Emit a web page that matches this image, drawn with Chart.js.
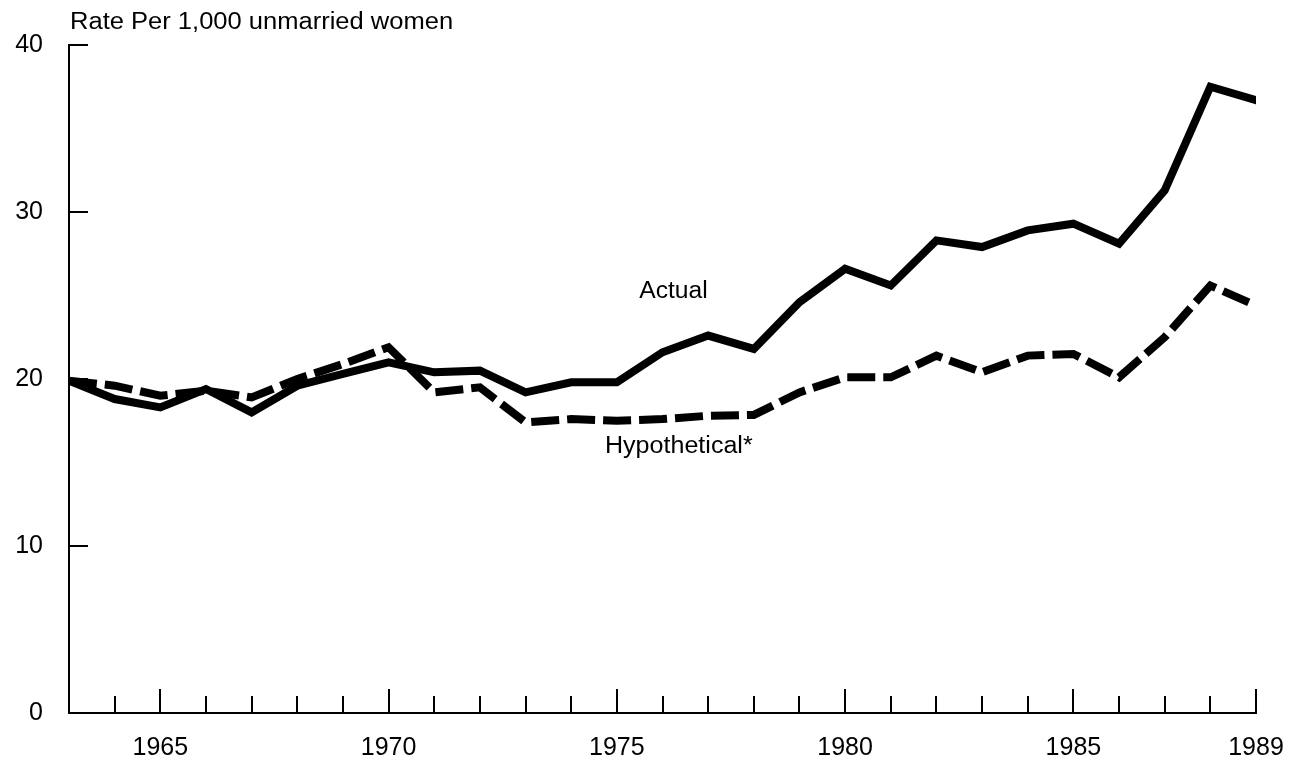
<!DOCTYPE html>
<html>
<head>
<meta charset="utf-8">
<script src="https://cdn.jsdelivr.net/npm/chart.js@4/dist/chart.umd.min.js"></script>
<style>
  html, body { margin: 0; padding: 0; background: #fff; }
  #grafico { display: block; }
</style>
</head>
<body>
<canvas id="grafico" width="1298" height="762"></canvas>
<script>
// Anos da série (1963 a 1989)
const anos = [1963, 1964, 1965, 1966, 1967, 1968, 1969, 1970, 1971, 1972, 1973, 1974, 1975,
              1976, 1977, 1978, 1979, 1980, 1981, 1982, 1983, 1984, 1985, 1986, 1987, 1988, 1989];

// Taxa real por 1.000 mulheres não casadas
const taxaReal = [19.9, 18.8, 18.3, 19.4, 18.0, 19.6, 20.3, 21.0, 20.4, 20.5, 19.2, 19.8, 19.8,
                  21.6, 22.6, 21.8, 24.6, 26.6, 25.6, 28.3, 27.9, 28.9, 29.3, 28.1, 31.3, 37.5, 36.7];

// Taxa hipotética
const taxaHipotetica = [19.9, 19.6, 19.0, 19.3, 18.9, 20.0, 20.9, 21.9, 19.2, 19.5, 17.4, 17.6, 17.5,
                        17.6, 17.8, 17.85, 19.2, 20.1, 20.1, 21.4, 20.4, 21.4, 21.5, 20.1, 22.5, 25.6, 24.4];

// Rótulos do eixo X e do eixo Y
const anosRotulados = [1965, 1970, 1975, 1980, 1985, 1989];
const valoresEixoY = [0, 10, 20, 30, 40];

const tituloEixo = 'Rate Per 1,000 unmarried women';
const rotuloReal = 'Actual';
const rotuloHipotetico = 'Hypothetical*';

const fonte = '"Liberation Sans", Arial, Helvetica, sans-serif';

function pontos(valores) {
    return anos.map((ano, i) => ({ x: ano, y: valores[i] }));
}

// Escreve um texto com leve esticamento horizontal
function escreverTexto(ctx, texto, x, y, tamanho, escalaX) {
    ctx.save();
    ctx.translate(x, y);
    ctx.scale(escalaX, 1);
    ctx.font = tamanho + 'px ' + fonte;
    ctx.fillStyle = '#000';
    ctx.textAlign = 'left';
    ctx.textBaseline = 'alphabetic';
    ctx.fillText(texto, 0, 0);
    ctx.restore();
}

// Marcas dos eixos voltadas para dentro da área do gráfico
const marcasEixos = {
    id: 'marcasEixos',
    beforeDatasetsDraw(chart) {
        const ctx = chart.ctx;
        const x = chart.scales.x;
        const y = chart.scales.y;
        const area = chart.chartArea;
        ctx.save();
        ctx.strokeStyle = '#000';
        ctx.lineWidth = 2;
        ctx.beginPath();
        anos.slice(1).forEach(ano => {
            const px = Math.round(x.getPixelForValue(ano));
            const comprimento = anosRotulados.includes(ano) ? 24 : 17;
            ctx.moveTo(px, area.bottom);
            ctx.lineTo(px, area.bottom - comprimento);
        });
        valoresEixoY.slice(1).forEach(v => {
            const py = Math.round(y.getPixelForValue(v));
            ctx.moveTo(area.left, py);
            ctx.lineTo(area.left + 19, py);
        });
        ctx.stroke();
        ctx.restore();
    },
    afterDraw(chart) {
        const ctx = chart.ctx;
        const x = chart.scales.x;
        const y = chart.scales.y;
        escreverTexto(ctx, tituloEixo, 70, 29, 23, 1.11);
        escreverTexto(ctx, rotuloReal, x.getPixelForValue(1975.49), y.getPixelForValue(24.85), 23, 1.07);
        escreverTexto(ctx, rotuloHipotetico, x.getPixelForValue(1974.74), y.getPixelForValue(15.55), 23, 1.09);
    }
};

const ctx = document.getElementById('grafico').getContext('2d');
new Chart(ctx, {
    type: 'line',
    data: {
        datasets: [
            {
                label: rotuloHipotetico,
                data: pontos(taxaHipotetica),
                borderColor: '#000',
                borderWidth: 8,
                borderDash: [28, 8],
                borderCapStyle: 'butt',
                borderJoinStyle: 'miter',
                pointRadius: 0,
                tension: 0,
                fill: false
            },
            {
                label: rotuloReal,
                data: pontos(taxaReal),
                borderColor: '#000',
                borderWidth: 8,
                borderCapStyle: 'round',
                borderJoinStyle: 'miter',
                pointRadius: 0,
                tension: 0,
                fill: false
            }
        ]
    },
    options: {
        responsive: false,
        animation: false,
        layout: { padding: { top: 45, right: 42, left: 0, bottom: 0 } },
        plugins: {
            legend: { display: false },
            tooltip: { enabled: false }
        },
        scales: {
            x: {
                type: 'linear',
                min: 1963,
                max: 1989,
                grid: { display: false, drawTicks: false },
                border: { display: true, color: '#000', width: 2 },
                afterFit: scale => {
                    scale.height = 49;
                    scale.paddingLeft = 0;
                    scale.paddingRight = 0;
                },
                afterBuildTicks: scale => {
                    scale.ticks = anos.map(ano => ({ value: ano }));
                },
                ticks: {
                    autoSkip: false,
                    maxRotation: 0,
                    padding: 20,
                    color: '#000',
                    font: { family: fonte, size: 25 },
                    callback: valor => anosRotulados.includes(valor) ? String(valor) : ''
                }
            },
            y: {
                min: 0,
                max: 40,
                grid: { display: false, drawTicks: false },
                border: { display: true, color: '#000', width: 2 },
                afterFit: scale => {
                    scale.width = 69;
                    scale.paddingTop = 0;
                    scale.paddingBottom = 0;
                },
                afterBuildTicks: scale => {
                    scale.ticks = valoresEixoY.map(v => ({ value: v }));
                },
                ticks: {
                    padding: 26,
                    color: '#000',
                    font: { family: fonte, size: 25 }
                }
            }
        }
    },
    plugins: [marcasEixos]
});
</script>
</body>
</html>
